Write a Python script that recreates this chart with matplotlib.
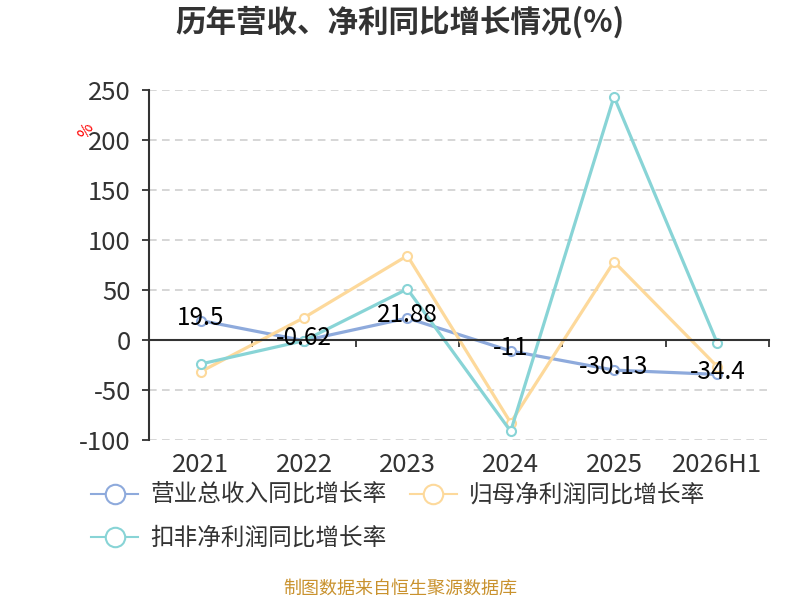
import matplotlib
matplotlib.use("Agg")
import matplotlib.pyplot as plt
import matplotlib.transforms as mtransforms
from matplotlib.lines import Line2D

plt.rcParams["font.family"] = ["Noto Sans CJK SC", "DejaVu Sans"]
plt.rcParams["axes.unicode_minus"] = False

# 数据
categories = ["2021", "2022", "2023", "2024", "2025", "2026H1"]
revenue_growth = [19.5, -0.62, 21.88, -11, -30.13, -34.4]
parent_profit_growth = [-31.7, 22.3, 84.3, -82.7, 78.3, -26.7]
deducted_profit_growth = [-24.0, -0.7, 51.0, -91.3, 243.3, -3.3]
series_names = ["营业总收入同比增长率", "归母净利润同比增长率", "扣非净利润同比增长率"]
y_ticks = [-100, -50, 0, 50, 100, 150, 200, 250]

COLORS = ["#8eaadc", "#fdd99b", "#88d4d6"]
AXIS_COLOR = "#333333"

fig = plt.figure(figsize=(8, 6), dpi=100)
ax = fig.add_axes([149 / 800, 160 / 600, 620 / 800, 350 / 600])

x = list(range(len(categories)))
handles = []
for vals, color, name in zip(
    [revenue_growth, parent_profit_growth, deducted_profit_growth], COLORS, series_names
):
    ax.plot(
        x, vals, color=color, linewidth=2.3, marker="o", markersize=6.5,
        markerfacecolor="white", markeredgecolor=color, markeredgewidth=1.5,
    )
    handles.append(
        Line2D([], [], color=color, linewidth=1.5, marker="o", markersize=14,
               markerfacecolor="white", markeredgecolor=color, markeredgewidth=1.5)
    )

# 数据标签（营业总收入）
for xi, v in zip(x, revenue_growth):
    ax.annotate(f"{v:g}", (xi, v), xytext=(0, 2), textcoords="offset points",
                ha="center", va="center", fontsize=17.5, color="black", zorder=5)

ax.set_xlim(-0.5, len(categories) - 0.5)
ax.set_ylim(-100, 250)
ax.set_yticks(y_ticks)
ax.tick_params(axis="y", labelsize=18.5, labelcolor=AXIS_COLOR, color=AXIS_COLOR,
               length=5, width=1.3, pad=8)
ax.yaxis.grid(True, linestyle=(0, (5, 3.5)), color="#cccccc", linewidth=1.1)
ax.set_axisbelow(True)

for side in ["top", "right"]:
    ax.spines[side].set_visible(False)
ax.spines["left"].set_color(AXIS_COLOR)
ax.spines["left"].set_linewidth(1.5)
ax.spines["bottom"].set_position(("data", 0))
ax.spines["bottom"].set_color(AXIS_COLOR)
ax.spines["bottom"].set_linewidth(1.5)

boundaries = [i - 0.5 for i in range(len(categories) + 1)]
ax.set_xticks(boundaries)
ax.set_xticklabels([""] * len(boundaries))
ax.tick_params(axis="x", direction="out", length=5, width=1.3, color=AXIS_COLOR)

trans = mtransforms.blended_transform_factory(ax.transData, ax.transAxes)
for xi, cat in zip(x, categories):
    ax.text(xi, -0.072, cat, transform=trans, ha="center", va="center",
            fontsize=18.5, color=AXIS_COLOR)

# 单位
fig.text(86 / 800, 1 - 131 / 600, "%", color="red", fontsize=12, rotation=60,
         ha="center", va="center")

fig.text(0.5, 1 - 22 / 600, "历年营收、净利同比增长情况(%)", ha="center", va="center",
         fontsize=22, fontweight="bold", color=AXIS_COLOR)

leg = fig.legend(
    [handles[0], handles[2], handles[1]],
    [series_names[0], series_names[2], series_names[1]],
    ncol=2, loc="upper left", bbox_to_anchor=(91 / 800, 1 - 484 / 600),
    frameon=False, fontsize=17, handlelength=2.0, handletextpad=0.5,
    columnspacing=1.0, labelspacing=0.85, borderpad=0, borderaxespad=0,
)
for t in leg.get_texts():
    t.set_color(AXIS_COLOR)

fig.text(0.5, 1 - 589 / 600, "制图数据来自恒生聚源数据库", ha="center", va="center",
         fontsize=13, color="#c9922e")

fig.savefig("out.png", dpi=100)
